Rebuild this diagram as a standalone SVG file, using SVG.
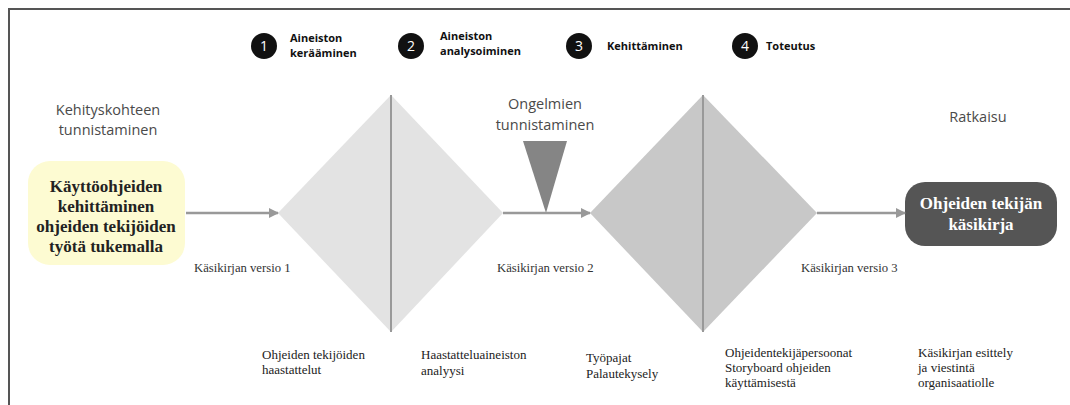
<svg xmlns="http://www.w3.org/2000/svg" width="1070" height="405" viewBox="0 0 1070 405">
<style>
.sans{font-family:"Open Sans","Liberation Sans",sans-serif;font-size:14.5px;fill:#4a4a4a}
.step{font-family:"Open Sans","Liberation Sans",sans-serif;font-size:11px;font-weight:bold;fill:#111}
.num{font-family:"Open Sans","Liberation Sans",sans-serif;font-size:14px;fill:#fff;text-anchor:middle}
.ser{font-family:"Liberation Serif","DejaVu Serif",serif;font-size:13px;fill:#222}
.ver{font-family:"Liberation Serif","DejaVu Serif",serif;font-size:12.7px;fill:#333}
.box{font-family:"Liberation Serif","DejaVu Serif",serif;font-size:17px;font-weight:bold;text-anchor:middle}
.conn{stroke:#999;stroke-width:2.5;fill:none}
</style>
<defs>
<marker id="ah" markerWidth="10" markerHeight="10" refX="9" refY="5" orient="auto" markerUnits="userSpaceOnUse">
<path d="M0,0 L10,5 L0,10 Z" fill="#999"/>
</marker>
</defs>
<rect width="1070" height="405" fill="#fff"/>
<g id="frame" stroke="#555" stroke-width="2" fill="none">
<path d="M9,405 V9 H1070"/>
</g>
<g id="steps">
<circle cx="264" cy="46" r="13" fill="#111"/><text class="num" x="264" y="51">1</text>
<text class="step" x="290" y="42">Aineiston</text><text class="step" x="290" y="57">kerääminen</text>
<circle cx="411" cy="46" r="13" fill="#111"/><text class="num" x="411" y="51">2</text>
<text class="step" x="440" y="40">Aineiston</text><text class="step" x="440" y="55">analysoiminen</text>
<circle cx="579" cy="46" r="13" fill="#111"/><text class="num" x="579" y="51">3</text>
<text class="step" x="607" y="50">Kehittäminen</text>
<circle cx="745" cy="46" r="13" fill="#111"/><text class="num" x="745" y="51">4</text>
<text class="step" x="766" y="50">Toteutus</text>
</g>
<g id="headings">
<text class="sans" x="108" y="115" text-anchor="middle">Kehityskohteen</text>
<text class="sans" x="108" y="135" text-anchor="middle">tunnistaminen</text>
<text class="sans" x="545" y="109" text-anchor="middle">Ongelmien</text>
<text class="sans" x="545" y="130" text-anchor="middle">tunnistaminen</text>
<text class="sans" x="978" y="122" text-anchor="middle">Ratkaisu</text>
</g>
<g id="start">
<rect x="28" y="161" width="157" height="104" rx="22" fill="#fdfbd2"/>
<text class="box" x="106" y="192" fill="#222">Käyttöohjeiden</text>
<text class="box" x="106" y="212" fill="#222">kehittäminen</text>
<text class="box" x="106" y="232" fill="#222">ohjeiden tekijöiden</text>
<text class="box" x="106" y="252" fill="#222">työtä tukemalla</text>
</g>
<g id="diamond1">
<polygon points="391,95 503,213 391,332 278,213" fill="#e3e3e3"/>
<line x1="391" y1="95" x2="391" y2="332" stroke="#999" stroke-width="2"/>
</g>
<g id="funnel">
<polygon points="523,141 567,141 546,213" fill="#858585"/>
</g>
<g id="diamond2">
<polygon points="703,95 817,213 703,332 590,213" fill="#c8c8c8"/>
<line x1="703" y1="95" x2="703" y2="332" stroke="#999" stroke-width="2"/>
</g>
<g id="end">
<rect x="905" y="182" width="152" height="64" rx="20" fill="#555"/>
<text class="box" x="981" y="209" fill="#fff">Ohjeiden tekijän</text>
<text class="box" x="981" y="230" fill="#fff">käsikirja</text>
</g>
<g id="connectors">
<line class="conn" x1="186" y1="213" x2="278" y2="213" marker-end="url(#ah)"/>
<line class="conn" x1="503" y1="213" x2="590" y2="213" marker-end="url(#ah)"/>
<line class="conn" x1="817" y1="213" x2="905" y2="213" marker-end="url(#ah)"/>
</g>
<g id="versions">
<text class="ver" x="194" y="272">Käsikirjan versio 1</text>
<text class="ver" x="497" y="272">Käsikirjan versio 2</text>
<text class="ver" x="801" y="272">Käsikirjan versio 3</text>
</g>
<g id="activities">
<text class="ser" x="262" y="359">Ohjeiden tekijöiden</text>
<text class="ser" x="262" y="374">haastattelut</text>
<text class="ser" x="421" y="359">Haastatteluaineiston</text>
<text class="ser" x="421" y="375">analyysi</text>
<text class="ser" x="586" y="362">Työpajat</text>
<text class="ser" x="586" y="378">Palautekysely</text>
<text class="ser" x="725" y="357">Ohjeidentekijäpersoonat</text>
<text class="ser" x="725" y="372">Storyboard ohjeiden</text>
<text class="ser" x="725" y="387">käyttämisestä</text>
<text class="ser" x="918" y="357">Käsikirjan esittely</text>
<text class="ser" x="918" y="372">ja viestintä</text>
<text class="ser" x="918" y="387">organisaatiolle</text>
</g>
</svg>
